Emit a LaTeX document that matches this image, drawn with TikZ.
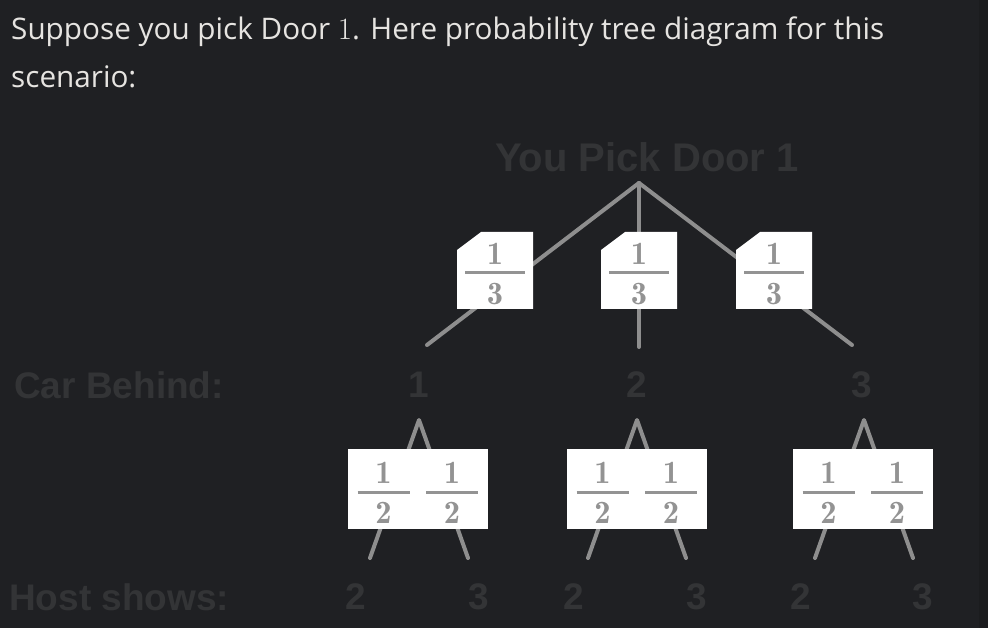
\documentclass[tikz,border=0pt]{standalone}
\usepackage{fontspec}
\newfontfamily\hdrfont{Open Sans}
\newfontfamily\lblfont{Liberation Sans}
\newfontfamily\fracfont{lmromandemi10-regular}[Extension=.otf]
\newfontfamily\mathonefont{Latin Modern Roman}
\definecolor{bg}{HTML}{1F2023}
\definecolor{strip}{HTML}{1B1C1E}
\definecolor{hdr}{HTML}{E6E4E1}
\definecolor{dim}{HTML}{333436}
\definecolor{branch}{HTML}{8E8E8E}
\definecolor{fracgray}{HTML}{939393}
\tikzset{
  hdrtext/.style={anchor=base west, inner sep=0pt, text=hdr, font=\hdrfont\fontsize{29.7}{29.7}\selectfont},
  dimtext/.style={inner sep=0pt, text=dim, font=\lblfont\bfseries\fontsize{37}{37}\selectfont},
  branchline/.style={draw=branch, line width=4pt, line cap=round, line join=round},
  fracdigit/.style={inner sep=0pt, text=fracgray, font=\fracfont\fontsize{32.5}{32.5}\selectfont},
  fracrule/.style={draw=fracgray, line width=3pt},
  labelbox/.style={fill=white},
}
% name, x, rule y, denominator, rule width
\newcommand{\fracat}[5]{%
  \node[fracdigit] (#1n) at (#2,{#3-19.5}) {1};
  \node[fracdigit] (#1d) at (#2,{#3+21}) {#4};
  \draw[fracrule] ({#2-#5/2},#3) -- ({#2+#5/2},#3);}
% chamfered third box: left x
\newcommand{\thirdbox}[1]{%
  \fill[labelbox] (#1,250) -- ({#1+24},232) -- ({#1+76},232) -- ({#1+76},309) -- (#1,309) -- cycle;}
\begin{document}
\begin{tikzpicture}[x=1pt,y=-1pt]
\useasboundingbox (0,0) rectangle (988,628);
\fill[bg] (0,0) rectangle (988,628);
\fill[strip] (979,0) rectangle (988,628);

% header
\node[hdrtext] (h1) at (11,40) {Suppose you pick Door {\mathonefont\fontsize{31}{31}\selectfont 1}. Here probability tree diagram for this};
\node[hdrtext] (h2) at (11,88) {scenario:};

% labels
\node[dimtext, anchor=base] (top) at (647,172) {\fontsize{40}{40}\selectfont You Pick Door 1};
\node[dimtext, anchor=base west] (carlbl) at (14,398) {Car Behind:};
\node[dimtext, anchor=base west] (hostlbl) at (9,610) {Host shows:};
\node[dimtext, anchor=base] (c1) at (419,397) {1};
\node[dimtext, anchor=base] (c2) at (637,397) {2};
\node[dimtext, anchor=base] (c3) at (862,397) {3};
\node[dimtext, anchor=base] (h12) at (356,609) {2};
\node[dimtext, anchor=base] (h13) at (479,609) {3};
\node[dimtext, anchor=base] (h22) at (574,609) {2};
\node[dimtext, anchor=base] (h23) at (697,609) {3};
\node[dimtext, anchor=base] (h32) at (801,609) {2};
\node[dimtext, anchor=base] (h33) at (923,609) {3};

% tree coordinates
\coordinate (root) at (639,183);
\coordinate (e1) at (427,345);
\coordinate (e2) at (639,347);
\coordinate (e3) at (852,345);
\coordinate (a1) at (419,420);
\coordinate (a2) at (637,420);
\coordinate (a3) at (864,420);
\coordinate (b12) at (370,558);
\coordinate (b13) at (468,558);
\coordinate (b22) at (588,558);
\coordinate (b23) at (686,558);
\coordinate (b32) at (815,558);
\coordinate (b33) at (913,558);

\draw[branchline] (root) -- (e1);
\draw[branchline] (root) -- (e2);
\draw[branchline] (root) -- (e3);
\draw[branchline] (b12) -- (a1) -- (b13);
\draw[branchline] (b22) -- (a2) -- (b23);
\draw[branchline] (b32) -- (a3) -- (b33);

% probability boxes, first level
\thirdbox{457}
\thirdbox{601}
\thirdbox{736}
\fracat{t1}{495}{273}{3}{60}
\fracat{t2}{639}{273}{3}{60}
\fracat{t3}{774}{273}{3}{60}

% probability boxes, second level
\fill[labelbox] (348,449) rectangle (488,529);
\fill[labelbox] (567,449) rectangle (707,529);
\fill[labelbox] (793,449) rectangle (933,529);
\fracat{s12}{383.5}{492}{2}{52}
\fracat{s13}{452}{492}{2}{52}
\fracat{s22}{602.5}{492}{2}{52}
\fracat{s23}{671}{492}{2}{52}
\fracat{s32}{828.5}{492}{2}{52}
\fracat{s33}{897}{492}{2}{52}
\end{tikzpicture}
\end{document}
